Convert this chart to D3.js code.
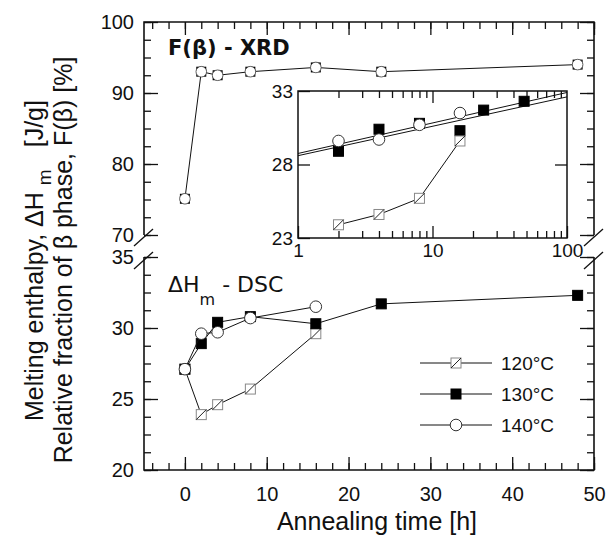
<!DOCTYPE html>
<html>
<head>
<meta charset="utf-8">
<script src="https://cdn.jsdelivr.net/npm/d3@7"></script>
<style>
  body { margin: 0; background: #fff; }
  svg text { font-family: "Liberation Sans", Arial, sans-serif; fill: #111; }
</style>
</head>
<body>
<div id="chart"></div>
<script>
// F(beta) from XRD, top panel
var xrdTime = [0, 2, 4, 8, 16, 24, 48];
var xrdBeta = [75.1, 93.0, 92.5, 93.0, 93.6, 93.0, 94.0];

// melting enthalpy from DSC, bottom panel and inset
var t120 = [0, 2, 4, 8, 16];
var dh120 = [27.1, 23.9, 24.6, 25.7, 29.6];
var t130 = [0, 2, 4, 8, 16, 24, 48];
var dh130 = [27.1, 28.9, 30.4, 30.8, 30.3, 31.7, 32.3];
var t140 = [0, 2, 4, 8, 16];
var dh140 = [27.1, 29.6, 29.7, 30.7, 31.5];

// fitted lines in the inset (log time)
var fitTime = [1, 100];
var fitA = [28.75, 32.9];
var fitB = [28.6, 32.6];

var legendLabels = ["120°C", "130°C", "140°C"];
var xTickLabels = [0, 10, 20, 30, 40, 50];
var topTickLabels = [70, 80, 90, 100];
var botTickLabels = [20, 25, 30, 35];

function init() {
    var w = 606, h = 538;
    var svg = d3.select("#chart").append("svg")
        .attr("width", w).attr("height", h);

    var left = 144, right = 594;
    var x = d3.scaleLinear().domain([-5, 50]).range([left, right]);
    var yTop = d3.scaleLinear().domain([70, 100]).range([235, 22]);
    var yBot = d3.scaleLinear().domain([20, 35]).range([470, 257]);

    // ---- ticks, inward on all four sides
    function ticks(g, axis) {
        g.call(axis);
        g.select(".domain").remove();
        g.selectAll("line").attr("stroke", "#111").attr("stroke-width", 1.3);
        g.selectAll("text").attr("font-size", 20).attr("fill", "#111");
    }
    var xMinor = d3.range(-4, 51, 2);
    svg.append("g").attr("transform", "translate(0,470)")
        .call(ticks, d3.axisBottom(x).tickValues(xMinor).tickSize(-7).tickFormat(""));
    svg.append("g").attr("transform", "translate(0,470)")
        .call(ticks, d3.axisBottom(x).tickValues(xTickLabels).tickSize(-13).tickPadding(17));
    svg.append("g").attr("transform", "translate(0,22)")
        .call(ticks, d3.axisTop(x).tickValues(xMinor).tickSize(-7).tickFormat(""));
    svg.append("g").attr("transform", "translate(0,22)")
        .call(ticks, d3.axisTop(x).tickValues(xTickLabels).tickSize(-13).tickFormat(""));

    var topMinor = d3.range(70, 100.1, 2.5);
    var botMinor = d3.range(20, 35.1, 1.25);
    [[yTop, topMinor, topTickLabels], [yBot, botMinor, botTickLabels]].forEach(function(p) {
        svg.append("g").attr("transform", "translate(" + left + ",0)")
            .call(ticks, d3.axisLeft(p[0]).tickValues(p[1]).tickSize(-7).tickFormat(""));
        svg.append("g").attr("transform", "translate(" + left + ",0)")
            .call(ticks, d3.axisLeft(p[0]).tickValues(p[2]).tickSize(-14).tickPadding(10));
        svg.append("g").attr("transform", "translate(" + right + ",0)")
            .call(ticks, d3.axisRight(p[0]).tickValues(p[1]).tickSize(-7).tickFormat(""));
        svg.append("g").attr("transform", "translate(" + right + ",0)")
            .call(ticks, d3.axisRight(p[0]).tickValues(p[2]).tickSize(-14).tickFormat(""));
    });

    // ---- frame with axis break
    var frame = svg.append("g").attr("stroke", "#111").attr("stroke-width", 1.6).attr("fill", "none");
    frame.append("path").attr("d", "M" + left + "," + yTop(70) + "V" + yTop(100) + "H" + right + "V" + yTop(70));
    frame.append("path").attr("d", "M" + left + "," + yBot(35) + "V" + yBot(20) + "H" + right + "V" + yBot(35));
    [left, right].forEach(function(xx) {
        [yTop(70) + 2, yBot(35) + 3].forEach(function(yy) {
            frame.append("line").attr("x1", xx - 10).attr("y1", yy + 9)
                .attr("x2", xx + 9).attr("y2", yy - 8).attr("stroke-width", 1.3);
        });
    });

    // ---- markers
    function marker(g, kind, cx, cy) {
        var s = 10;
        if (kind === "open") {
            g.append("rect").attr("x", cx - s / 2).attr("y", cy - s / 2).attr("width", s).attr("height", s)
                .attr("fill", "#fff").attr("stroke", "#888").attr("stroke-width", 1);
            g.append("line").attr("x1", cx - s / 2).attr("y1", cy + s / 2)
                .attr("x2", cx + s / 2).attr("y2", cy - s / 2).attr("stroke", "#222").attr("stroke-width", 1);
        } else if (kind === "filled") {
            g.append("rect").attr("x", cx - s / 2).attr("y", cy - s / 2).attr("width", s).attr("height", s)
                .attr("fill", "#000").attr("stroke", "#000");
        } else if (kind === "circle") {
            g.append("circle").attr("cx", cx).attr("cy", cy).attr("r", 5.8)
                .attr("fill", "#fff").attr("stroke", "#333").attr("stroke-width", 1);
        } else {
            g.append("rect").attr("x", cx - s / 2).attr("y", cy - s / 2).attr("width", s).attr("height", s)
                .attr("fill", "#000");
            g.append("circle").attr("cx", cx).attr("cy", cy).attr("r", 5.3)
                .attr("fill", "#fff").attr("stroke", "#444").attr("stroke-width", 0.8);
        }
    }

    function series(g, xs, ys, sx, sy, kind) {
        var pts = xs.map(function(t, i) { return [sx(t), sy(ys[i])]; });
        g.append("path").attr("d", d3.line()(pts))
            .attr("fill", "none").attr("stroke", "#111").attr("stroke-width", 1);
        pts.forEach(function(p) { marker(g, kind, p[0], p[1]); });
    }

    // ---- top panel
    var topG = svg.append("g");
    series(topG, xrdTime, xrdBeta, x, yTop, "xrd");
    svg.append("text").attr("x", 168).attr("y", 55)
        .style("font-family", "'DejaVu Sans', sans-serif").attr("font-weight", "bold")
        .attr("font-size", 21).text("F(β) - XRD");

    // ---- inset
    var xIn = d3.scaleLog().domain([1, 100]).range([298, 567]);
    var yIn = d3.scaleLinear().domain([23, 33]).range([238, 91]);
    var inset = svg.append("g");
    inset.append("rect").attr("x", 298).attr("y", 91).attr("width", 269).attr("height", 147)
        .attr("fill", "#fff");
    svg.append("clipPath").attr("id", "inclip").append("rect")
        .attr("x", 298).attr("y", 91).attr("width", 269).attr("height", 147);
    var logMinor = [2, 3, 4, 5, 6, 7, 8, 9, 20, 30, 40, 50, 60, 70, 80, 90];
    inset.append("g").attr("transform", "translate(0,238)")
        .call(ticks, d3.axisBottom(xIn).tickValues(logMinor).tickSize(-7).tickFormat(""));
    inset.append("g").attr("transform", "translate(0,238)")
        .call(ticks, d3.axisBottom(xIn).tickValues([1, 10, 100]).tickSize(-12).tickPadding(6).tickFormat(d3.format("d")));
    inset.append("g").attr("transform", "translate(0,91)")
        .call(ticks, d3.axisTop(xIn).tickValues(logMinor).tickSize(-7).tickFormat(""));
    inset.append("g").attr("transform", "translate(0,91)")
        .call(ticks, d3.axisTop(xIn).tickValues([10]).tickSize(-12).tickFormat(""));
    inset.append("g").attr("transform", "translate(298,0)")
        .call(ticks, d3.axisLeft(yIn).tickValues([23, 28, 33]).tickSize(-12).tickPadding(5));
    inset.append("g").attr("transform", "translate(567,0)")
        .call(ticks, d3.axisRight(yIn).tickValues([28]).tickSize(-12).tickFormat(""));
    inset.selectAll("text").attr("font-size", 19);

    var clipG = inset.append("g").attr("clip-path", "url(#inclip)");
    [fitA, fitB].forEach(function(f) {
        clipG.append("path")
            .attr("d", d3.line()(fitTime.map(function(t, i) { return [xIn(t), yIn(f[i])]; })))
            .attr("fill", "none").attr("stroke", "#111").attr("stroke-width", 1);
    });
    var markG = inset.append("g");
    t130.forEach(function(t, i) { if (t > 0) marker(markG, "filled", xIn(t), yIn(dh130[i])); });
    t140.forEach(function(t, i) { if (t > 0) marker(markG, "circle", xIn(t), yIn(dh140[i])); });
    var in120 = t120.filter(function(t) { return t > 0; });
    series(markG, in120, dh120.slice(1), xIn, yIn, "open");
    inset.append("rect").attr("x", 298).attr("y", 91).attr("width", 269).attr("height", 147)
        .attr("fill", "none").attr("stroke", "#111").attr("stroke-width", 1.5);

    // ---- bottom panel
    var botG = svg.append("g");
    series(botG, t120, dh120, x, yBot, "open");
    series(botG, t130, dh130, x, yBot, "filled");
    series(botG, t140, dh140, x, yBot, "circle");

    var lab = svg.append("text").attr("x", 168).attr("y", 292)
        .style("font-family", "'DejaVu Sans', sans-serif").attr("font-size", 22);
    lab.append("tspan").text("ΔH");
    lab.append("tspan").attr("dy", 13).attr("font-size", 16).text("m");
    lab.append("tspan").attr("dy", -13).text(" - DSC");

    // ---- legend
    var kinds = ["open", "filled", "circle"];
    var lg = svg.append("g");
    legendLabels.forEach(function(l, i) {
        var yy = 363 + i * 31;
        lg.append("line").attr("x1", 420).attr("x2", 492).attr("y1", yy).attr("y2", yy)
            .attr("stroke", "#111").attr("stroke-width", 1);
        marker(lg, kinds[i], 456, yy);
        lg.append("text").attr("x", 501).attr("y", yy + 7).attr("font-size", 19).text(l);
    });

    // ---- axis titles
    svg.append("text").attr("x", 377).attr("y", 530).attr("text-anchor", "middle")
        .attr("font-size", 25).text("Annealing time [h]");

    var t1 = svg.append("text").attr("transform", "translate(43,421) rotate(-90)")
        .attr("font-size", 25);
    t1.append("tspan").text("Melting enthalpy, ΔH");
    t1.append("tspan").attr("dx", 7).attr("dy", 8).attr("font-size", 19).text("m");
    t1.append("tspan").attr("dx", 22).attr("dy", -8).text("[J/g]");

    svg.append("text").attr("transform", "translate(72,260) rotate(-90)")
        .attr("text-anchor", "middle").attr("font-size", 25)
        .text("Relative fraction of β phase, F(β) [%]");
}

window.onload = init;
</script>
</body>
</html>
